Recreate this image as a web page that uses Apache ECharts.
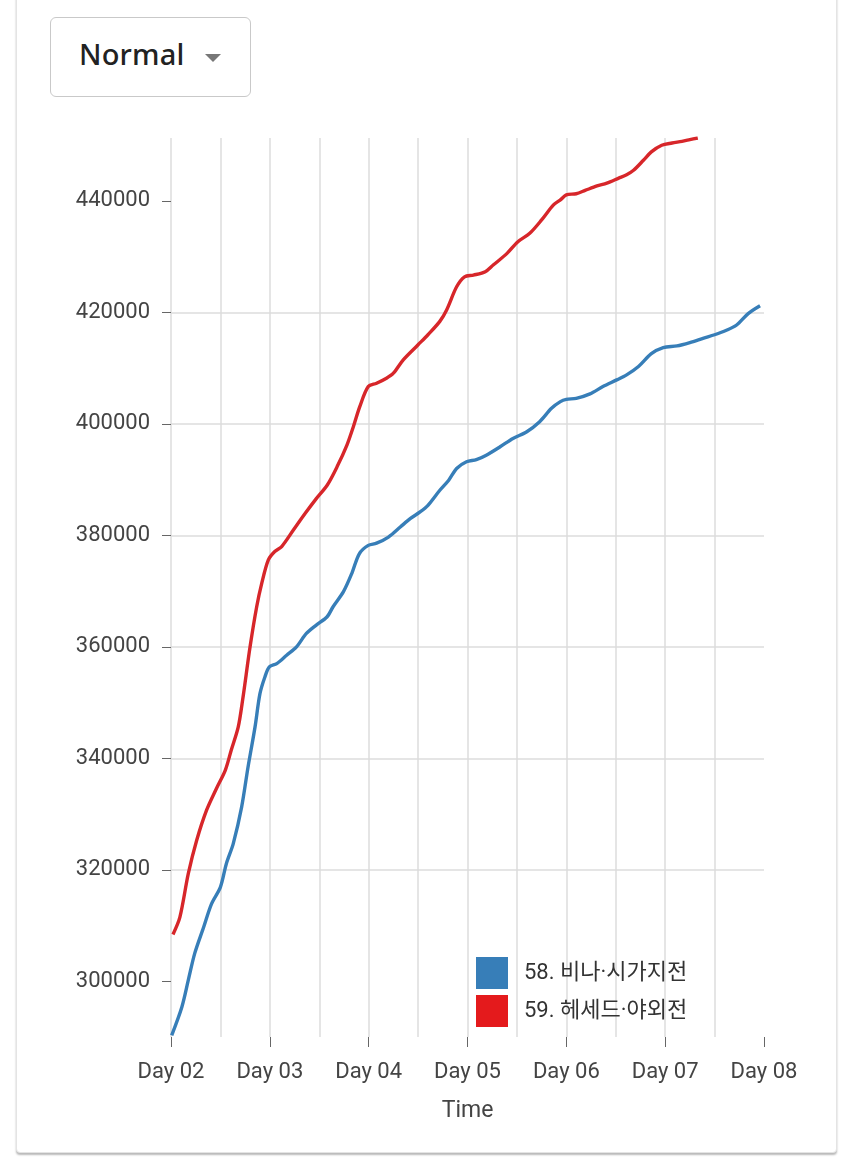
<!DOCTYPE html>
<html>
<head>
<meta charset="utf-8">
<script src="https://cdn.jsdelivr.net/npm/echarts@6/dist/echarts.min.js"></script>
<style>
  html, body { margin: 0; padding: 0; background: #ffffff; width: 850px; height: 1169px; overflow: hidden; }
  #card { position: absolute; left: 16px; top: -10px; width: 819px; height: 1161px; background: #fff;
          border: 1px solid #e4e4e4; border-radius: 4px; box-shadow: 0 2px 2px rgba(0,0,0,0.28); }
  #btn { position: absolute; left: 50px; top: 17px; width: 199px; height: 78px; border: 1px solid #c9c9c9;
         border-radius: 6px; background: #fff; }
  #btn span { position: absolute; left: 28px; top: 16px; font-family: "Noto Sans", sans-serif; font-weight: 500;
              font-size: 29px; color: #222; letter-spacing: 0.2px; }
  #btn i { position: absolute; left: 154px; top: 36px; width: 0; height: 0; border-left: 8px solid transparent;
           border-right: 8px solid transparent; border-top: 8px solid #777; }
  #chart { position: absolute; left: 0; top: 0; width: 850px; height: 1169px; }
</style>
</head>
<body>
<div id="card"></div>
<div id="btn"><span>Normal</span><i></i></div>
<div id="chart"></div>
<script>
// ---- data (days since Day 02 00:00, value) ----
const seriesNames = ['58. 비나·시가지전', '59. 헤세드·야외전'];
const seriesColors = ['#377eb8', '#e41a1c'];

const blueDays = [0.007,0.11,0.175,0.24,0.33,0.41,0.50,0.56,0.63,0.715,0.78,0.85,0.90,0.95,0.995,1.07,1.17,1.27,1.37,1.47,1.58,1.64,1.745,1.83,1.905,1.996,2.08,2.20,2.32,2.42,2.52,2.60,2.72,2.81,2.89,2.99,3.09,3.19,3.33,3.46,3.60,3.73,3.85,3.94,4.00,4.10,4.24,4.37,4.51,4.61,4.73,4.86,4.98,5.12,5.25,5.39,5.50,5.62,5.72,5.84,5.96];
const blueValues = [290300,295400,300200,305000,309700,313900,316900,321100,324700,331300,338500,345600,351600,354600,356400,357000,358500,360000,362400,363900,365400,367200,369900,373200,376700,378200,378600,379700,381500,383000,384200,385400,388100,389900,392000,393200,393600,394400,395900,397400,398600,400400,402800,404000,404400,404600,405400,406700,407900,408800,410300,412600,413700,414000,414600,415400,416000,416800,417700,419800,421200];

const redDays = [0.02,0.09,0.175,0.26,0.36,0.46,0.55,0.61,0.68,0.725,0.80,0.867,0.918,0.985,1.05,1.12,1.24,1.36,1.47,1.58,1.68,1.78,1.845,1.91,1.996,2.08,2.18,2.25,2.35,2.50,2.60,2.72,2.79,2.89,2.97,3.06,3.18,3.26,3.40,3.51,3.63,3.75,3.87,3.94,4.00,4.10,4.19,4.31,4.41,4.53,4.61,4.68,4.78,4.86,4.965,5.07,5.17,5.25,5.33];
const redValues = [308400,311500,319300,325300,330700,334600,337900,341500,345600,350500,360000,367200,371400,375600,377100,378000,381000,384000,386600,389000,392300,396200,399500,403100,406700,407300,408200,409100,411500,414200,416000,418400,420500,424600,426400,426700,427300,428500,430600,432700,434200,436600,439300,440200,441100,441300,441900,442700,443200,444100,444700,445500,447300,448800,450000,450400,450700,451000,451300];

const xTickValues = [0,1,2,3,4,5,6];
const xTickLabels = ['Day 02','Day 03','Day 04','Day 05','Day 06','Day 07','Day 08'];
const yTickValues = [300000,320000,340000,360000,380000,400000,420000,440000];

const yMin = 290000, yMax = 451300;

const chart = echarts.init(document.getElementById('chart'), null, { renderer: 'canvas' });
const labelFont = 'Roboto, "Noto Sans", sans-serif';
const gridColor = '#dddddd';

chart.setOption({
  backgroundColor: 'transparent',
  animation: false,
  grid: { left: 171, right: 86, top: 138, bottom: 132, containLabel: false },
  legend: {
    orient: 'vertical', left: 471, top: 952,
    itemWidth: 32, itemHeight: 32, itemGap: 6,
    icon: 'rect',
    data: seriesNames,
    selectedMode: false,
    textStyle: { fontSize: 22, color: '#333', fontFamily: 'Roboto, "Noto Sans CJK KR", sans-serif', padding: [0, 0, 0, 11] }
  },
  xAxis: [
    {
      type: 'value', min: 0, max: 6, position: 'bottom',
      axisLine: { show: false },
      axisTick: { show: true, length: 10, customValues: xTickValues, lineStyle: { color: '#666', width: 1 } },
      axisLabel: { customValues: xTickValues, margin: 24, fontSize: 22, color: '#444', fontFamily: labelFont,
                   formatter: v => xTickLabels[Math.round(v)] },
      splitLine: { show: false },
      name: 'Time', nameLocation: 'middle', nameGap: 63,
      nameTextStyle: { fontSize: 23, color: '#444', fontFamily: labelFont }
    },
    {
      type: 'value', min: 0, max: 6, interval: 0.5, position: 'bottom',
      axisLine: { show: false }, axisTick: { show: false }, axisLabel: { show: false },
      splitLine: { show: true, showMinLine: true, showMaxLine: false, lineStyle: { color: gridColor, width: 1.5 } }
    }
  ],
  yAxis: {
    type: 'value', min: yMin, max: yMax,
    axisLine: { show: false },
    axisTick: { show: true, length: 9, customValues: yTickValues, lineStyle: { color: '#666', width: 1 } },
    axisLabel: { customValues: yTickValues, margin: 21, fontSize: 22, color: '#444', fontFamily: labelFont,
                 formatter: v => String(v) },
    splitLine: { show: true, showMinLine: false, showMaxLine: false, lineStyle: { color: gridColor, width: 1.5 } }
  },
  series: [
    {
      name: seriesNames[0], type: 'line', xAxisIndex: 0, showSymbol: false, smooth: 0.3,
      color: seriesColors[0], lineStyle: { width: 3.4, color: seriesColors[0] },
      data: blueDays.map((d, i) => [d, blueValues[i]])
    },
    {
      name: seriesNames[1], type: 'line', xAxisIndex: 0, showSymbol: false, smooth: 0.3,
      color: seriesColors[1], lineStyle: { width: 3.4, color: '#d7262a' },
      data: redDays.map((d, i) => [d, redValues[i]])
    }
  ]
});
</script>
</body>
</html>
